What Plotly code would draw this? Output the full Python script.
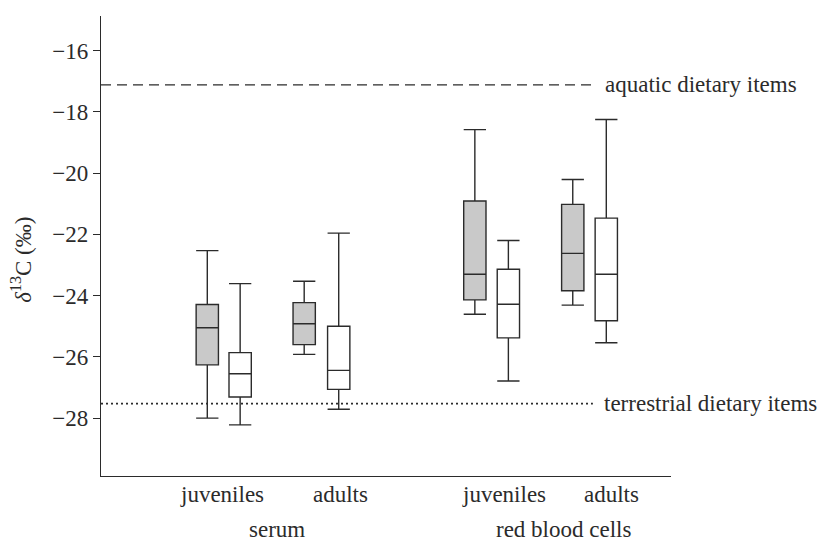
import plotly.graph_objects as go

# Data (δ13C, ‰)
groups = ["serum juveniles", "serum juveniles", "serum adults", "serum adults",
          "rbc juveniles", "rbc juveniles", "rbc adults", "rbc adults"]
positions = [3.17, 4.15, 6.06, 7.09, 11.15, 12.15, 14.07, 15.07]
fills = ["#c9c9c9", "#ffffff", "#c9c9c9", "#ffffff",
         "#c9c9c9", "#ffffff", "#c9c9c9", "#ffffff"]
upper = [-22.53, -23.61, -23.53, -21.96, -18.58, -22.20, -20.21, -18.25]
q3 = [-24.29, -25.86, -24.23, -25.00, -20.91, -23.14, -21.02, -21.47]
median = [-25.05, -26.55, -24.92, -26.44, -23.30, -24.28, -22.62, -23.30]
q1 = [-26.26, -27.31, -25.60, -27.06, -24.14, -25.38, -23.84, -24.82]
lower = [-28.00, -28.22, -25.92, -27.71, -24.61, -26.79, -24.31, -25.54]

aquatic_value = -17.12
terrestrial_value = -27.53
y_ticks = [-16, -18, -20, -22, -24, -26, -28]

sub_labels = ["juveniles", "adults", "juveniles", "adults"]
sub_label_x = [3.60, 7.13, 12.03, 15.24]
tissue_labels = ["serum", "red blood cells"]
tissue_label_x = [5.26, 13.79]

FONT = "Liberation Serif, Times New Roman, serif"
INK = "#2b2b2b"
FS = 23

fig = go.Figure()
for i in range(len(positions)):
    fig.add_trace(go.Box(
        x=[positions[i]],
        q1=[q1[i]], median=[median[i]], q3=[q3[i]],
        lowerfence=[lower[i]], upperfence=[upper[i]],
        width=0.665,
        whiskerwidth=1,
        fillcolor=fills[i],
        line=dict(color=INK, width=1.4),
        boxpoints=False,
        showlegend=False,
        hoverinfo="skip",
        name=groups[i],
    ))

line_end = 14.67
fig.add_shape(type="line", xref="x", yref="y", x0=0, x1=line_end,
              y0=aquatic_value, y1=aquatic_value,
              line=dict(color=INK, width=1.3, dash="10px,6px"))
fig.add_shape(type="line", xref="x", yref="y", x0=0, x1=line_end,
              y0=terrestrial_value, y1=terrestrial_value,
              line=dict(color=INK, width=1.8, dash="2px,3px"))

fig.add_annotation(x=14.97, y=aquatic_value, xref="x", yref="y",
                   text="aquatic dietary items", showarrow=False,
                   xanchor="left", yanchor="middle",
                   font=dict(family=FONT, size=FS, color=INK))
fig.add_annotation(x=14.94, y=terrestrial_value, xref="x", yref="y",
                   text="terrestrial dietary items", showarrow=False,
                   xanchor="left", yanchor="middle",
                   font=dict(family=FONT, size=FS, color=INK))

for lx, lt in zip(sub_label_x, sub_labels):
    fig.add_annotation(x=lx, y=0, xref="x", yref="paper", text=lt,
                       showarrow=False, xanchor="center", yanchor="middle",
                       yshift=-18, borderpad=0,
                       font=dict(family=FONT, size=FS, color=INK))
for lx, lt in zip(tissue_label_x, tissue_labels):
    fig.add_annotation(x=lx, y=0, xref="x", yref="paper", text=lt,
                       showarrow=False, xanchor="center", yanchor="middle",
                       yshift=-53, borderpad=0,
                       font=dict(family=FONT, size=FS, color=INK))

fig.add_annotation(x=0, y=0.47, xref="paper", yref="paper",
                   text="<i>δ</i><sup>13</sup>C (‰)", showarrow=False,
                   textangle=-90, xanchor="center", yanchor="middle",
                   xshift=-79, font=dict(family=FONT, size=FS, color=INK))

fig.update_layout(
    width=826, height=542,
    margin=dict(l=101, r=155, t=15.5, b=66.3),
    paper_bgcolor="white", plot_bgcolor="white",
    font=dict(family=FONT, size=FS, color=INK),
    xaxis=dict(range=[0, 17], showticklabels=False, ticks="", showgrid=False,
               zeroline=False, showline=True, linecolor=INK, linewidth=1.3),
    yaxis=dict(range=[-29.89, -14.87], tickvals=y_ticks, ticks="outside",
               ticklen=7, tickwidth=1.3, tickcolor=INK, showgrid=False,
               zeroline=False, showline=True, linecolor=INK, linewidth=1.3,
               tickfont=dict(family=FONT, size=FS, color=INK)),
)

fig.write_html("out.html",
               config={"displayModeBar": False},
               post_script="document.body.style.margin='0';document.body.style.overflow='hidden';")
